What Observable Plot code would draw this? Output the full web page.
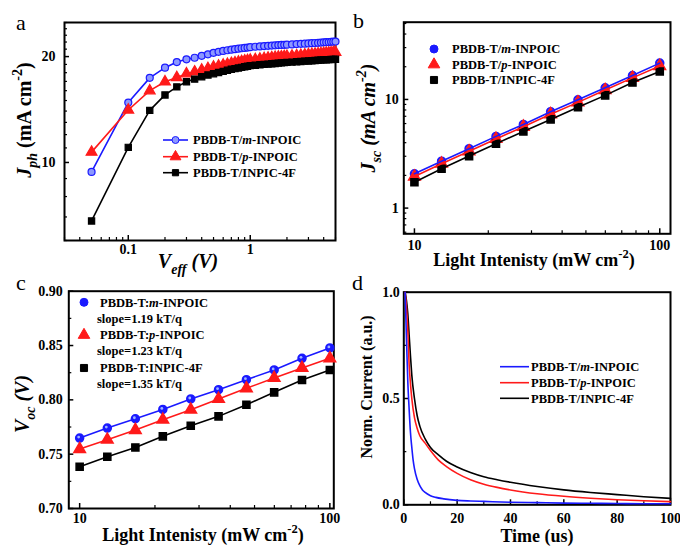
<!DOCTYPE html>
<html><head><meta charset="utf-8">
<script src="https://cdn.jsdelivr.net/npm/d3@7"></script>
<script src="https://cdn.jsdelivr.net/npm/@observablehq/plot@0.6"></script>
<style>
body{margin:0;background:#fff;}
#fig{position:relative;width:680px;height:546px;overflow:hidden;background:#fff;}
#fig svg{position:absolute;overflow:visible;}
</style></head><body><div id="fig"></div>
<script>
// ---------- data ----------
const seriesA = ["m-INPOIC", "p-INPOIC", "INPIC-4F"];
const colors = ["#1a1aff", "#ff1a1a", "#000000"];
const symbols = ["circle", "triangle", "square"];
const slopes = ["slope=1.19 kT/q", "slope=1.23 kT/q", "slope=1.35 kT/q"];

// panel a: Jph vs Veff
const veff = [0.05,0.1,0.15,0.2,0.25,0.3,0.35,0.4,0.45,0.5,0.55,0.6,0.65,0.7,0.75,0.8,0.85,0.9,0.95,1.0,1.1,1.2,1.3,1.4,1.5,1.6,1.7,1.8,1.9,2.0,2.2,2.4,2.6,2.8,3.0,3.2,3.4,3.6,3.8,4.0,4.2,4.4,4.6,4.8,5.0];
const jphM = [9.4,14.8,17.4,18.6,19.3,19.65,19.85,20.1,20.3,20.5,20.63,20.76,20.85,20.93,21.0,21.07,21.12,21.17,21.22,21.27,21.33,21.38,21.42,21.46,21.5,21.53,21.56,21.58,21.6,21.62,21.66,21.7,21.74,21.77,21.8,21.83,21.86,21.89,21.92,21.95,21.98,22.0,22.03,22.05,22.07];
const jphP = [10.7,14.1,16.0,16.96,17.45,17.88,18.1,18.32,18.5,18.68,18.81,18.93,19.03,19.13,19.22,19.31,19.38,19.45,19.5,19.56,19.63,19.7,19.76,19.82,19.87,19.91,19.95,19.98,20.01,20.04,20.09,20.13,20.18,20.23,20.27,20.31,20.34,20.38,20.41,20.44,20.47,20.5,20.52,20.55,20.57];
const jph4F = [6.82,11.04,14.06,15.56,16.4,16.96,17.26,17.53,17.73,17.88,18.02,18.15,18.28,18.4,18.48,18.56,18.64,18.71,18.78,18.85,18.9,18.95,19.0,19.04,19.08,19.12,19.16,19.19,19.22,19.26,19.29,19.33,19.37,19.41,19.44,19.47,19.5,19.52,19.55,19.57,19.59,19.61,19.62,19.64,19.65];

// panels b, c: light intensity dependence
const intensity = [10,12.9,16.7,21.5,27.8,35.9,46.4,59.9,77.4,100];
const jscM = [2.07,2.70,3.52,4.57,5.89,7.71,9.93,12.8,16.6,21.6];
const jscP = [1.95,2.56,3.33,4.33,5.6,7.3,9.4,12.2,15.8,20.3];
const jsc4F = [1.73,2.30,3.01,3.91,5.08,6.55,8.49,10.9,14.3,18.1];
const vocM = [0.7648,0.7740,0.7826,0.7912,0.8008,0.8094,0.8186,0.8275,0.8382,0.8478];
const vocP = [0.7547,0.7633,0.7722,0.7817,0.7909,0.8008,0.8106,0.8201,0.8293,0.8382];
const voc4F = [0.7384,0.7476,0.7562,0.7664,0.7762,0.7848,0.7955,0.8069,0.8183,0.8275];

// panel d: transient photocurrent
const timeM = [0.5,1,1.5,2,2.5,3,3.5,4,5,6,7,8,10,12,15,20,25,30,40,50,60,70,80,90,100];
const curM = [1.0,0.78,0.58,0.45,0.34,0.27,0.21,0.17,0.12,0.09,0.07,0.058,0.043,0.035,0.028,0.021,0.018,0.016,0.012,0.010,0.008,0.007,0.006,0.005,0.005];
const timePF = [0.5,1,1.5,2,2.5,3,4,5,6,8,10,13,16,20,25,30,35,40,50,60,70,80,90,100];
const curP = [1.0,0.93,0.82,0.66,0.57,0.50,0.41,0.36,0.325,0.29,0.255,0.21,0.18,0.148,0.118,0.097,0.082,0.07,0.052,0.04,0.031,0.024,0.019,0.015];
const cur4F = [1.0,0.96,0.9,0.8,0.7,0.61,0.50,0.42,0.37,0.31,0.27,0.235,0.205,0.178,0.152,0.132,0.118,0.106,0.086,0.07,0.058,0.048,0.038,0.03];

// ---------- helpers ----------
const fig = document.getElementById("fig");
const FONT = '"Liberation Serif","Times New Roman",serif';
const tickFont = {fontFamily: FONT, fontSize: "14px", fontWeight: "bold"};
const rows = (xs, ys) => xs.map((x, i) => ({x, y: ys[i]}));
const blank = () => "";

function axes(xMajor, xMinor, xFmt, xPad, yMajor, yMinor, yFmt, yPad) {
  return [
    Plot.axisX({ticks: xMajor, tickSize: 0, tickPadding: xPad, tickFormat: xFmt, label: null}),
    Plot.axisX({ticks: xMajor, tickSize: -5, tickFormat: blank, label: null, strokeWidth: 1.5}),
    Plot.axisX({ticks: xMinor, tickSize: -3, tickFormat: blank, label: null, strokeWidth: 1.2}),
    Plot.axisY({ticks: yMajor, tickSize: 0, tickPadding: yPad, tickFormat: yFmt, label: null}),
    Plot.axisY({ticks: yMajor, tickSize: -5, tickFormat: blank, label: null, strokeWidth: 1.5}),
    Plot.axisY({ticks: yMinor, tickSize: -3, tickFormat: blank, label: null, strokeWidth: 1.2}),
    Plot.frame({stroke: "#000", strokeWidth: 2})
  ];
}

function place(svg, left, top) {
  svg.style.left = left + "px";
  svg.style.top = top + "px";
  fig.appendChild(svg);
  return d3.select(svg);
}

// rich text: parts [{t, i, sub, sup}]
function rich(g, parts) {
  let shift = 0;
  for (const p of parts) {
    const ts = g.append("tspan").text(p.t);
    const target = p.sub ? 0.3 : p.sup ? -0.45 : 0;
    if (target !== shift) ts.attr("dy", ((target - shift) * (p.sub || p.sup ? 1 / 0.7 : 1)) + "em");
    if (p.sub || p.sup) ts.style("font-size", "0.7em");
    if (p.i) ts.style("font-style", "italic");
    shift = target;
  }
  return g;
}

function title(svg, x, y, size, parts, rotate, weight = "bold") {
  const t = svg.append("text")
    .attr("font-family", FONT).attr("font-size", size).attr("font-weight", weight)
    .attr("text-anchor", "middle").attr("fill", "#000");
  if (rotate) t.attr("transform", `translate(${x},${y}) rotate(-90)`);
  else t.attr("x", x).attr("y", y);
  return rich(t, parts);
}

function panelLetter(svg, x, y, s) {
  svg.append("text").attr("x", x).attr("y", y).attr("font-family", FONT)
    .attr("font-size", 22).attr("font-weight", "normal").attr("text-anchor", "start")
    .attr("fill", "#000").text(s);
}

function marker(svg, k, x, y, r, fill) {
  const sym = [d3.symbolCircle, d3.symbolTriangle, d3.symbolSquare][k];
  svg.append("path").attr("d", d3.symbol(sym, Math.PI * r * r)())
    .attr("transform", `translate(${x},${y})`)
    .attr("fill", fill || colors[k]).attr("stroke", colors[k]).attr("stroke-width", 1);
}

function legendText(svg, x, y, parts) {
  const t = svg.append("text").attr("x", x).attr("y", y).attr("dy", "0.35em")
    .attr("text-anchor", "start")
    .attr("font-family", FONT).attr("font-size", 12.5).attr("font-weight", "bold").attr("fill", "#000");
  rich(t, parts);
}
const nameParts = (k, sep) => k === 2
  ? [{t: "PBDB-T" + sep + "INPIC-4F"}]
  : [{t: "PBDB-T" + sep}, {t: k === 0 ? "m" : "p", i: true}, {t: "-INPOIC"}];

// ---------- panel a ----------
{
  const ys = [jphM, jphP, jph4F];
  const marks = [];
  ys.forEach((y, k) => {
    const d = rows(veff, y);
    marks.push(Plot.line(d, {x: "x", y: "y", stroke: colors[k], strokeWidth: 1.6}));
    marks.push(Plot.dot(d, {x: "x", y: "y", symbol: symbols[k], r: k === 1 ? 4 : 3.5,
      fill: k === 0 ? "#8c98ff" : colors[k], stroke: colors[k], strokeWidth: 1.2}));
  });
  const svg = place(Plot.plot({
    width: 340, height: 275, marginLeft: 64, marginRight: 5, marginTop: 22, marginBottom: 35,
    style: tickFont,
    x: {type: "log", domain: [0.03, 5]},
    y: {type: "log", domain: [6, 25]},
    marks: [
      ...axes([0.1, 1], [0.03,0.04,0.05,0.06,0.07,0.08,0.09,0.2,0.3,0.4,0.5,0.6,0.7,0.8,0.9,2,3,4,5], d3.format("~g"), 4,
        [10, 20], [6,7,8,9,11,12,13,14,15,16,17,18,19,21,22,23,24,25], d3.format("d"), 9),
      ...marks
    ]
  }), 0, 0);
  title(svg, 31, 120, 20, [{t: "J", i: true}, {t: "ph", i: true, sub: true}, {t: " (mA cm"}, {t: "-2", sup: true}, {t: ")"}], true);
  title(svg, 188, 268, 20, [{t: "V", i: true}, {t: "eff", i: true, sub: true}, {t: " (V)", i: true}]);
  panelLetter(svg, 16, 30, "a");
  [140, 156.7, 172.7].forEach((y, k) => {
    svg.append("line").attr("x1", 163).attr("x2", 188).attr("y1", y).attr("y2", y)
      .attr("stroke", colors[k]).attr("stroke-width", 1.6);
    marker(svg, k, 175.5, y, k === 1 ? 4 : 3.5, k === 0 ? "#8c98ff" : null);
    legendText(svg, 193, y, nameParts(k, "/"));
  });
}

// ---------- panel b ----------
{
  const ys = [jscM, jscP, jsc4F];
  const marks = [];
  ys.forEach((y, k) => {
    const d = rows(intensity, y);
    marks.push(Plot.dot(d, {x: "x", y: "y", symbol: symbols[k], r: k === 1 ? 4.3 : 4, fill: colors[k], stroke: colors[k]}));
    if (k === 0) marks.push(Plot.dot(d, {x: "x", y: "y", r: 1.4, fill: "#9fb4ff", dx: -1, dy: -1}));
  });
  ys.slice().reverse().forEach((y, j) => {
    const k = 2 - j;
    marks.push(Plot.line(rows(intensity, y), {x: "x", y: "y", stroke: colors[k], strokeWidth: 1.6}));
  });
  const svg = place(Plot.plot({
    width: 340, height: 275, marginLeft: 63.3, marginRight: 10, marginTop: 21.7, marginBottom: 41.7,
    style: tickFont,
    x: {type: "log", domain: [9.05, 110.6]},
    y: {type: "log", domain: [0.58, 51.4]},
    marks: [
      ...axes([10, 100], [20,30,40,50,60,70,80,90], d3.format("d"), 6,
        [1, 10], [0.6,0.7,0.8,0.9,2,3,4,5,6,7,8,9,20,30,40,50], d3.format("d"), 5),
      ...marks
    ]
  }), 340, 0);
  title(svg, 35, 118, 20, [{t: "J", i: true}, {t: "sc", i: true, sub: true}, {t: " (mA cm", i: true}, {t: "-2", sup: true, i: true}, {t: ")", i: true}], true);
  title(svg, 194, 266, 18, [{t: "Light Intenisty (mW cm"}, {t: "-2", sup: true}, {t: ")"}]);
  panelLetter(svg, 13, 28, "b");
  [49, 64.5, 80].forEach((y, k) => {
    marker(svg, k, 94, y, k === 1 ? 4.3 : 4);
    legendText(svg, 112, y, nameParts(k, "/"));
  });
}

// ---------- panel c ----------
{
  const ys = [vocM, vocP, voc4F];
  const marks = [];
  ys.forEach((y, k) => {
    const d = rows(intensity, y);
    marks.push(Plot.line(d, {x: "x", y: "y", stroke: colors[k], strokeWidth: 1.6}));
    marks.push(Plot.dot(d, {x: "x", y: "y", symbol: symbols[k], r: k === 1 ? 4.3 : 4, fill: colors[k], stroke: colors[k]}));
    if (k === 0) marks.push(Plot.dot(d, {x: "x", y: "y", r: 1.4, fill: "#9fb4ff", dx: -1, dy: -1}));
  });
  const svg = place(Plot.plot({
    width: 340, height: 273, marginLeft: 68.3, marginRight: 6.7, marginTop: 17.7, marginBottom: 38,
    style: tickFont,
    x: {type: "log", domain: [9.05, 103.7]},
    y: {domain: [0.70, 0.90]},
    marks: [
      ...axes([10, 100], [20,30,40,50,60,70,80,90], d3.format("d"), 5,
        [0.70,0.75,0.80,0.85,0.90], [0.725,0.775,0.825,0.875], d3.format(".2f"), 6),
      ...marks
    ]
  }), 0, 273);
  title(svg, 29, 131, 20, [{t: "V", i: true}, {t: "oc", i: true, sub: true}, {t: " (V)", i: true}], true);
  title(svg, 203, 268, 18, [{t: "Light Intenisty (mW cm"}, {t: "-2", sup: true}, {t: ")"}]);
  panelLetter(svg, 16, 17, "c");
  [29.3, 62, 95].forEach((y, k) => {
    marker(svg, k, 84, y, k === 1 ? 4.3 : 4);
    legendText(svg, 100, y, nameParts(k, ":"));
    legendText(svg, 97, y + 16, [{t: slopes[k]}]);
  });
}

// ---------- panel d ----------
{
  const sets = [[timeM, curM], [timePF, curP], [timePF, cur4F]];
  const marks = sets.map(([t, c], k) =>
    Plot.line(rows(t, c), {x: "x", y: "y", stroke: colors[k], strokeWidth: 1.6, curve: "monotone-x"}));
  const svg = place(Plot.plot({
    width: 340, height: 273, marginLeft: 63.3, marginRight: 10, marginTop: 18.7, marginBottom: 41.7,
    style: tickFont,
    x: {domain: [0, 100]},
    y: {domain: [0, 1]},
    marks: [
      ...axes([0,20,40,60,80,100], [10,30,50,70,90], d3.format("d"), 8,
        [0, 0.5, 1], [0.25, 0.75], d3.format(".1f"), 4),
      ...marks.reverse()
    ]
  }), 340, 273);
  title(svg, 32, 114, 16, [{t: "Norm. Current (a.u.)"}], true);
  title(svg, 197, 269, 18, [{t: "Time (us)"}]);
  panelLetter(svg, 12, 17, "d");
  [93.7, 109.7, 125.3].forEach((y, k) => {
    svg.append("line").attr("x1", 160).attr("x2", 189).attr("y1", y).attr("y2", y)
      .attr("stroke", colors[k]).attr("stroke-width", 1.6);
    legendText(svg, 191, y, nameParts(k, "/"));
  });
}
</script></body></html>
